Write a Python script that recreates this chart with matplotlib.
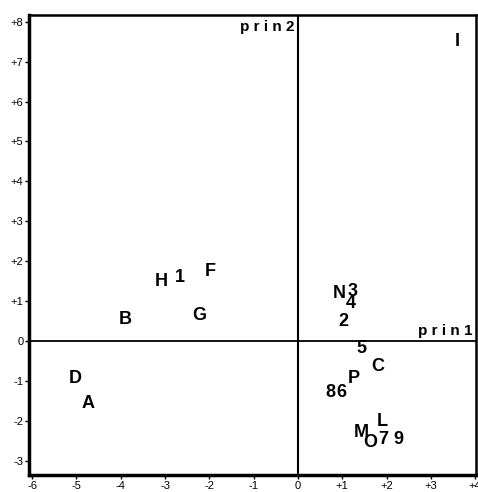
import matplotlib
matplotlib.use("Agg")
import matplotlib.pyplot as plt

labels = ["I", "H", "1", "F", "B", "G", "D", "A",
          "N", "3", "4", "2", "5", "C", "P", "8", "6",
          "L", "M", "O", "7", "9"]
prin1 = [3.59, -3.09, -2.66, -1.97, -3.90, -2.23, -5.03, -4.73,
         0.93, 1.24, 1.20, 1.02, 1.44, 1.80, 1.26, 0.74, 0.99,
         1.90, 1.44, 1.63, 1.92, 2.26]
prin2 = [7.50, 1.48, 1.60, 1.73, 0.55, 0.63, -0.95, -1.56,
         1.20, 1.23, 0.95, 0.50, -0.20, -0.63, -0.93, -1.28, -1.28,
         -2.03, -2.30, -2.55, -2.48, -2.48]
xticks = [-6, -5, -4, -3, -2, -1, 0, 1, 2, 3, 4]
yticks = [-3, -2, -1, 0, 1, 2, 3, 4, 5, 6, 7, 8]

def fmt(v):
    return "+%d" % v if v > 0 else "%d" % v

plt.rcParams['font.family'] = ['Liberation Sans', 'DejaVu Sans']

fig = plt.figure(figsize=(4.78, 4.92), dpi=100)
ax = fig.add_axes([29/478, 17/492, (476-29)/478, (475-15)/492])
ax.set_xlim(-6.07, 4.02)
ax.set_ylim(-3.36, 8.17)

for lab, x, y in zip(labels, prin1, prin2):
    ax.text(x, y, lab, ha='center', va='center', fontsize=13,
            fontweight='bold', color='black')

ax.axhline(0, color='black', lw=1.3)
ax.axvline(0, color='black', lw=1.5)

ax.text(-0.07, 8.05, "p r i n 2", ha='right', va='top', fontsize=11,
        fontweight='bold')
ax.text(3.95, 0.08, "p r i n 1", ha='right', va='bottom', fontsize=11,
        fontweight='bold')

ax.set_xticks(xticks)
ax.set_xticklabels([fmt(v) for v in xticks])
ax.set_yticks(yticks)
ax.set_yticklabels([fmt(v) for v in yticks])
ax.tick_params(direction='out', length=3, width=1, labelsize=8, pad=1)

for side in ['left', 'bottom']:
    ax.spines[side].set_linewidth(2.5)
for side in ['top', 'right']:
    ax.spines[side].set_linewidth(1.8)

fig.savefig("out.png", dpi=100)
